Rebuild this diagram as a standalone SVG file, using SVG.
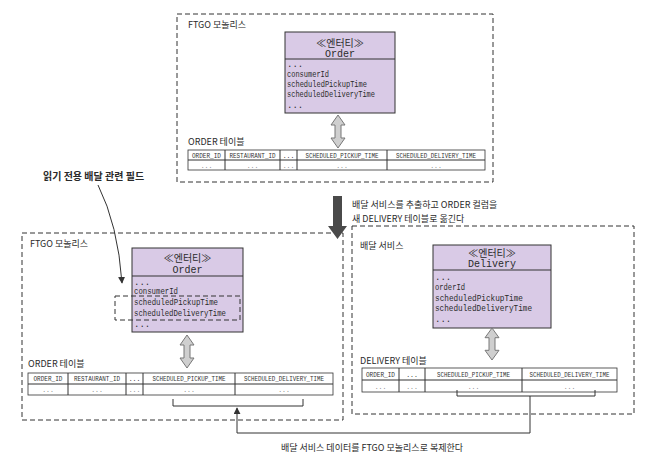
<svg xmlns="http://www.w3.org/2000/svg" width="652" height="470" viewBox="0 0 652 470">
<style>
.bg{fill:#ffffff}
.dash{fill:none;stroke:#333;stroke-width:1;stroke-dasharray:5,3}
.ent{fill:#d9cae6;stroke:#333;stroke-width:1}
.ln{stroke:#333;stroke-width:1;fill:none}
.kr{font-family:"Noto Sans CJK KR","Noto Sans",sans-serif;font-size:9px;fill:#2a2a2a}
.hd{font-family:"Noto Sans CJK KR","Noto Sans",sans-serif;font-size:10px;fill:#2a2a2a;text-anchor:middle}
.mono{font-family:"Liberation Mono","DejaVu Sans Mono",monospace;font-size:9px;fill:#2a2a2a}
.mh{font-family:"Liberation Mono","DejaVu Sans Mono",monospace;font-size:10px;fill:#2a2a2a;text-anchor:middle}
.tb{fill:#fff;stroke:#333;stroke-width:0.8}
.th{font-family:"Liberation Mono","DejaVu Sans Mono",monospace;font-size:6.5px;fill:#333;text-anchor:middle}
.td{font-family:"Liberation Mono","DejaVu Sans Mono",monospace;font-size:6.5px;fill:#888;text-anchor:middle}
.dbl{fill:#cfcfcf;stroke:#777;stroke-width:1}
</style>
<defs>
<path id="dblArrow" d="M0,0 L7,10 L3,10 L3,23 L7,23 L0,33 L-7,23 L-3,23 L-3,10 L-7,10 Z"/>
<marker id="tri" viewBox="0 0 8 8" refX="7" refY="4" markerWidth="7" markerHeight="7" orient="auto" markerUnits="userSpaceOnUse">
<path d="M0,0 L8,4 L0,8 Z" fill="#333"/>
</marker>
</defs>
<rect class="bg" x="0" y="0" width="652" height="470"/>

<g id="ftgo-top">
<rect class="dash" x="177" y="14" width="316" height="168"/>
<text class="kr" x="188" y="28">FTGO 모놀리스</text>
</g>

<g id="order-top">
<rect class="ent" x="285" y="32" width="110" height="81"/>
<line class="ln" x1="285" y1="59" x2="395" y2="59"/>
<text class="hd" x="340" y="47">≪엔터티≫</text>
<text class="mh" x="340" y="57">Order</text>
<text class="mono" x="287" y="67">...</text>
<text class="mono" x="287" y="77" textLength="42" lengthAdjust="spacingAndGlyphs">consumerId</text>
<text class="mono" x="287" y="87" textLength="80" lengthAdjust="spacingAndGlyphs">scheduledPickupTime</text>
<text class="mono" x="287" y="97" textLength="88" lengthAdjust="spacingAndGlyphs">scheduledDeliveryTime</text>
<text class="mono" x="287" y="108">...</text>
</g>

<g id="order-table-top">
<text class="kr" x="188" y="145">ORDER 테이블</text>
<rect class="tb" x="188" y="150" width="297" height="20"/>
<line class="ln" x1="188" y1="160" x2="485" y2="160"/>
<line class="ln" x1="225" y1="150" x2="225" y2="170"/>
<line class="ln" x1="280" y1="150" x2="280" y2="170"/>
<line class="ln" x1="297" y1="150" x2="297" y2="170"/>
<line class="ln" x1="387" y1="150" x2="387" y2="170"/>
<text class="th" x="206.5" y="157.5" textLength="29" lengthAdjust="spacingAndGlyphs">ORDER_ID</text>
<text class="th" x="252.5" y="157.5" textLength="46" lengthAdjust="spacingAndGlyphs">RESTAURANT_ID</text>
<text class="th" x="288.5" y="157.5">...</text>
<text class="th" x="342" y="157.5" textLength="73" lengthAdjust="spacingAndGlyphs">SCHEDULED_PICKUP_TIME</text>
<text class="th" x="436" y="157.5" textLength="80" lengthAdjust="spacingAndGlyphs">SCHEDULED_DELIVERY_TIME</text>
<text class="td" x="206.5" y="167.5">...</text>
<text class="td" x="252.5" y="167.5">...</text>
<text class="td" x="288.5" y="167.5">...</text>
<text class="td" x="342" y="167.5">...</text>
<text class="td" x="436" y="167.5">...</text>
</g>

<g id="readonly-label">
<text class="kr" x="43" y="180" style="font-size:10px;font-weight:600">읽기 전용 배달 관련 필드</text>
</g>

<g id="ftgo-bottom">
<rect class="dash" x="22" y="233" width="321" height="187"/>
<text class="kr" x="30" y="247">FTGO 모놀리스</text>
</g>

<g id="order-bottom">
<rect class="ent" x="132" y="248" width="111" height="84"/>
<line class="ln" x1="132" y1="276" x2="243" y2="276"/>
<text class="hd" x="187.5" y="262">≪엔터티≫</text>
<text class="mh" x="187.5" y="273">Order</text>
<text class="mono" x="134" y="285">...</text>
<text class="mono" x="134" y="294" textLength="44" lengthAdjust="spacingAndGlyphs">consumerId</text>
<text class="mono" x="134" y="305" textLength="84" lengthAdjust="spacingAndGlyphs">scheduledPickupTime</text>
<text class="mono" x="134" y="316" textLength="92" lengthAdjust="spacingAndGlyphs">scheduledDeliveryTime</text>
<text class="mono" x="134" y="327">...</text>
<rect class="dash" x="115" y="296" width="125" height="24"/>
</g>

<g id="order-table-bottom">
<text class="kr" x="28" y="367">ORDER 테이블</text>
<rect class="tb" x="28" y="373" width="305" height="22"/>
<line class="ln" x1="28" y1="384" x2="333" y2="384"/>
<line class="ln" x1="68" y1="373" x2="68" y2="395"/>
<line class="ln" x1="126" y1="373" x2="126" y2="395"/>
<line class="ln" x1="143" y1="373" x2="143" y2="395"/>
<line class="ln" x1="235" y1="373" x2="235" y2="395"/>
<text class="th" x="48" y="381" textLength="29" lengthAdjust="spacingAndGlyphs">ORDER_ID</text>
<text class="th" x="97" y="381" textLength="46" lengthAdjust="spacingAndGlyphs">RESTAURANT_ID</text>
<text class="th" x="134.5" y="381">...</text>
<text class="th" x="189" y="381" textLength="73" lengthAdjust="spacingAndGlyphs">SCHEDULED_PICKUP_TIME</text>
<text class="th" x="284" y="381" textLength="80" lengthAdjust="spacingAndGlyphs">SCHEDULED_DELIVERY_TIME</text>
<text class="td" x="48" y="392">...</text>
<text class="td" x="97" y="392">...</text>
<text class="td" x="134.5" y="392">...</text>
<text class="td" x="189" y="392">...</text>
<text class="td" x="284" y="392">...</text>
</g>

<g id="delivery-service">
<rect class="dash" x="352" y="226" width="282" height="188"/>
<text class="kr" x="360" y="249">배달 서비스</text>
</g>

<g id="delivery-entity">
<rect class="ent" x="433" y="245" width="118" height="83"/>
<line class="ln" x1="433" y1="270" x2="551" y2="270"/>
<text class="hd" x="492" y="257">≪엔터티≫</text>
<text class="mh" x="492" y="267">Delivery</text>
<text class="mono" x="435" y="280">...</text>
<text class="mono" x="435" y="290" textLength="30" lengthAdjust="spacingAndGlyphs">orderId</text>
<text class="mono" x="435" y="300.5" textLength="88" lengthAdjust="spacingAndGlyphs">scheduledPickupTime</text>
<text class="mono" x="435" y="311" textLength="97" lengthAdjust="spacingAndGlyphs">scheduledDeliveryTime</text>
<text class="mono" x="435" y="322">...</text>
</g>

<g id="delivery-table">
<text class="kr" x="360" y="364">DELIVERY 테이블</text>
<rect class="tb" x="362" y="368" width="255" height="24"/>
<line class="ln" x1="362" y1="380" x2="617" y2="380"/>
<line class="ln" x1="399" y1="368" x2="399" y2="392"/>
<line class="ln" x1="425" y1="368" x2="425" y2="392"/>
<line class="ln" x1="522" y1="368" x2="522" y2="392"/>
<text class="th" x="380.5" y="377" textLength="29" lengthAdjust="spacingAndGlyphs">ORDER_ID</text>
<text class="th" x="412" y="377">...</text>
<text class="th" x="473.5" y="377" textLength="73" lengthAdjust="spacingAndGlyphs">SCHEDULED_PICKUP_TIME</text>
<text class="th" x="569.5" y="377" textLength="80" lengthAdjust="spacingAndGlyphs">SCHEDULED_DELIVERY_TIME</text>
<text class="td" x="380.5" y="389">...</text>
<text class="td" x="412" y="389">...</text>
<text class="td" x="473.5" y="389">...</text>
<text class="td" x="569.5" y="389">...</text>
</g>

<g id="extract-label">
<text class="kr" x="352" y="208">배달 서비스를 추출하고 ORDER 컬럼을</text>
<text class="kr" x="352" y="222">새 DELIVERY 테이블로 옮긴다</text>
</g>

<g id="replicate-label">
<text class="kr" x="372" y="451" text-anchor="middle">배달 서비스 데이터를 FTGO 모놀리스로 복제한다</text>
</g>

<g id="connectors">
<use href="#dblArrow" class="dbl" transform="translate(338,115)"/>
<use href="#dblArrow" class="dbl" transform="translate(187,335)"/>
<use href="#dblArrow" class="dbl" transform="translate(492,328) scale(1,0.97)"/>
<path d="M333,196 L342,196 L342,226 L347,226 L337.5,239 L328,226 L333,226 Z" fill="#4a4a4a"/>
<path class="ln" d="M98,185 Q118,225 122,283" marker-end="url(#tri)"/>
<path class="ln" d="M173,399 L173,406 L303,406 L303,399"/>
<path class="ln" d="M457,390 L457,396 L595,396 L595,390"/>
<path class="ln" d="M530,396 L530,433 L237,433 L237,408" marker-end="url(#tri)"/>
</g>
</svg>
